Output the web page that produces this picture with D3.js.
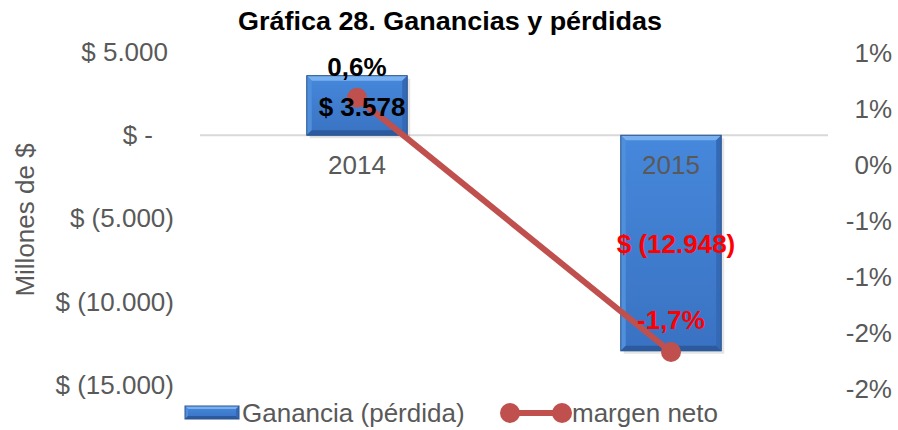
<!DOCTYPE html>
<html>
<head>
<meta charset="utf-8">
<script src="https://cdn.jsdelivr.net/npm/d3@7"></script>
<style>
  body { margin: 0; background: #fff; }
  text { font-family: "Liberation Sans", Arial, sans-serif; }
</style>
</head>
<body>
<svg width="898" height="430"></svg>
<script>
const years = ["2014", "2015"];
const ganancia = [3578, -12948];
const margen = [0.006, -0.0167];
const leftTicks = [5000, 0, -5000, -10000, -15000];
const rightTicks = [0.01, 0.005, 0, -0.005, -0.01, -0.015, -0.02];
const rightLabels = ["1%", "1%", "0%", "-1%", "-1%", "-2%", "-2%"];
const ganLabels = ["$ 3.578", "$ (12.948)"];
const margenLabels = ["0,6%", "-1,7%"];

const svg = d3.select("svg");
const grey = "#595959";
const lineColor = "#c0504d";
const fs = 26;

const x = d3.scaleBand().domain(years).range([200, 828]).paddingInner(0.68).paddingOuter(0.34);
const y = d3.scaleLinear().domain([-15000, 5000]).range([385, 52]);
const y2 = d3.scaleLinear().domain([-0.02, 0.01]).range([389, 53]);

const defs = svg.append("defs");
const g1 = defs.append("linearGradient").attr("id", "barFill").attr("x1", 0).attr("y1", 0).attr("x2", 0).attr("y2", 1);
g1.append("stop").attr("offset", "0%").attr("stop-color", "#4688dc");
g1.append("stop").attr("offset", "100%").attr("stop-color", "#3a72c2");

// bevelled box, like the Excel bar style
function bevel(sel, x0, y0, w, h, b) {
  const x1 = x0 + w, y1 = y0 + h;
  const pts = a => a.map(p => p.join(",")).join(" ");
  sel.append("rect").attr("x", x0).attr("y", y0).attr("width", w).attr("height", h)
    .attr("fill", "url(#barFill)");
  sel.append("polygon").attr("points", pts([[x0, y0], [x1, y0], [x1 - b, y0 + b], [x0 + b, y0 + b]])).attr("fill", "#78b0f0");
  sel.append("polygon").attr("points", pts([[x0, y0], [x0 + b, y0 + b], [x0 + b, y1 - b], [x0, y1]])).attr("fill", "#4f8fdc");
  sel.append("polygon").attr("points", pts([[x1, y0], [x1, y1], [x1 - b, y1 - b], [x1 - b, y0 + b]])).attr("fill", "#3469b6");
  sel.append("polygon").attr("points", pts([[x0, y1], [x0 + b, y1 - b], [x1 - b, y1 - b], [x1, y1]])).attr("fill", "#2c5a9e");
  sel.append("rect").attr("x", x0).attr("y", y0).attr("width", w).attr("height", h)
    .attr("fill", "none").attr("stroke", "#2a5590").attr("stroke-width", 1);
}

// title
svg.append("text")
  .attr("x", 450).attr("y", 30)
  .attr("text-anchor", "middle")
  .attr("font-size", 25).attr("font-weight", "bold").attr("fill", "#000")
  .attr("textLength", 424).attr("lengthAdjust", "spacingAndGlyphs")
  .text("Gráfica 28. Ganancias y pérdidas");

// zero gridline
svg.append("line")
  .attr("x1", 200).attr("x2", 828)
  .attr("y1", y(0)).attr("y2", y(0))
  .attr("stroke", "#d9d9d9").attr("stroke-width", 2);

const fmt = v => d3.format(",")(v).replace(/,/g, ".");

// left axis
const leftAxis = svg.append("g").attr("transform", "translate(174,0)")
  .call(d3.axisLeft(y).tickValues(leftTicks).tickSize(0).tickPadding(0)
    .tickFormat(d => d === 0 ? "$ -" : d < 0 ? "$ (" + fmt(-d) + ")" : "$ " + fmt(d)));
leftAxis.select(".domain").remove();
leftAxis.selectAll("text")
  .attr("font-size", fs).attr("fill", grey)
  .attr("font-family", "Liberation Sans, Arial, sans-serif")
  .attr("dx", d => d === 0 ? -21 : d > 0 ? -6 : 0);

// right axis
const rightAxis = svg.append("g").attr("transform", "translate(892,0)")
  .call(d3.axisLeft(y2).tickValues(rightTicks).tickSize(0).tickPadding(0)
    .tickFormat((d, i) => rightLabels[i]));
rightAxis.select(".domain").remove();
rightAxis.selectAll("text")
  .attr("font-size", fs).attr("fill", grey)
  .attr("font-family", "Liberation Sans, Arial, sans-serif");

// axis title
svg.append("text")
  .attr("transform", "translate(34,220) rotate(-90)")
  .attr("text-anchor", "middle")
  .attr("font-size", fs).attr("fill", grey)
  .text("Millones de $");

// bars
const bars = svg.append("g").selectAll("g").data(years).join("g");
bars.append("rect")
  .attr("x", d => x(d) + 3).attr("y", (d, i) => Math.min(y(ganancia[i]), y(0)) + 3)
  .attr("width", x.bandwidth()).attr("height", (d, i) => Math.abs(y(ganancia[i]) - y(0)))
  .attr("fill", "#000").attr("opacity", 0.1);
bars.each(function(d, i) {
  const top = Math.min(y(ganancia[i]), y(0));
  bevel(d3.select(this), x(d), top, x.bandwidth(), Math.abs(y(ganancia[i]) - y(0)), 5);
});

// category labels
svg.append("g").selectAll("text").data(years).join("text")
  .attr("x", d => x(d) + x.bandwidth() / 2).attr("y", 174)
  .attr("text-anchor", "middle")
  .attr("font-size", fs).attr("fill", grey)
  .text(d => d);

// line
const cx = d => x(d) + x.bandwidth() / 2;
svg.append("path")
  .datum(years)
  .attr("d", d3.line().x(d => cx(d)).y((d, i) => y2(margen[i])))
  .attr("fill", "none").attr("stroke", lineColor).attr("stroke-width", 6);
svg.append("g").selectAll("circle").data(years).join("circle")
  .attr("cx", d => cx(d)).attr("cy", (d, i) => y2(margen[i]))
  .attr("r", 10).attr("fill", lineColor);

// bar value labels (drawn over the line)
svg.append("g").selectAll("text").data(years).join("text")
  .attr("x", d => x(d) + x.bandwidth() / 2 + 5)
  .attr("y", (d, i) => i === 0 ? 116 : 253)
  .attr("text-anchor", "middle")
  .attr("font-size", fs).attr("font-weight", "bold")
  .attr("fill", (d, i) => ganancia[i] < 0 ? "#ff0000" : "#000")
  .text((d, i) => ganLabels[i]);

// margin labels
svg.append("g").selectAll("text").data(years).join("text")
  .attr("x", cx)
  .attr("y", (d, i) => i === 0 ? 76 : 329)
  .attr("text-anchor", "middle")
  .attr("font-size", fs).attr("font-weight", "bold")
  .attr("fill", (d, i) => margen[i] < 0 ? "#ff0000" : "#000")
  .text((d, i) => margenLabels[i]);

// legend
const leg = svg.append("g");
bevel(leg, 185, 406, 54, 13, 3);
leg.append("text").attr("x", 242).attr("y", 422).attr("font-size", fs).attr("fill", grey)
  .text("Ganancia (pérdida)");
leg.append("line").attr("x1", 510).attr("x2", 562).attr("y1", 413).attr("y2", 413)
  .attr("stroke", lineColor).attr("stroke-width", 6);
leg.selectAll("circle").data([510, 562]).join("circle")
  .attr("cx", d => d).attr("cy", 413).attr("r", 10).attr("fill", lineColor);
leg.append("text").attr("x", 572).attr("y", 422).attr("font-size", fs).attr("fill", grey)
  .text("margen neto");
</script>
</body>
</html>
